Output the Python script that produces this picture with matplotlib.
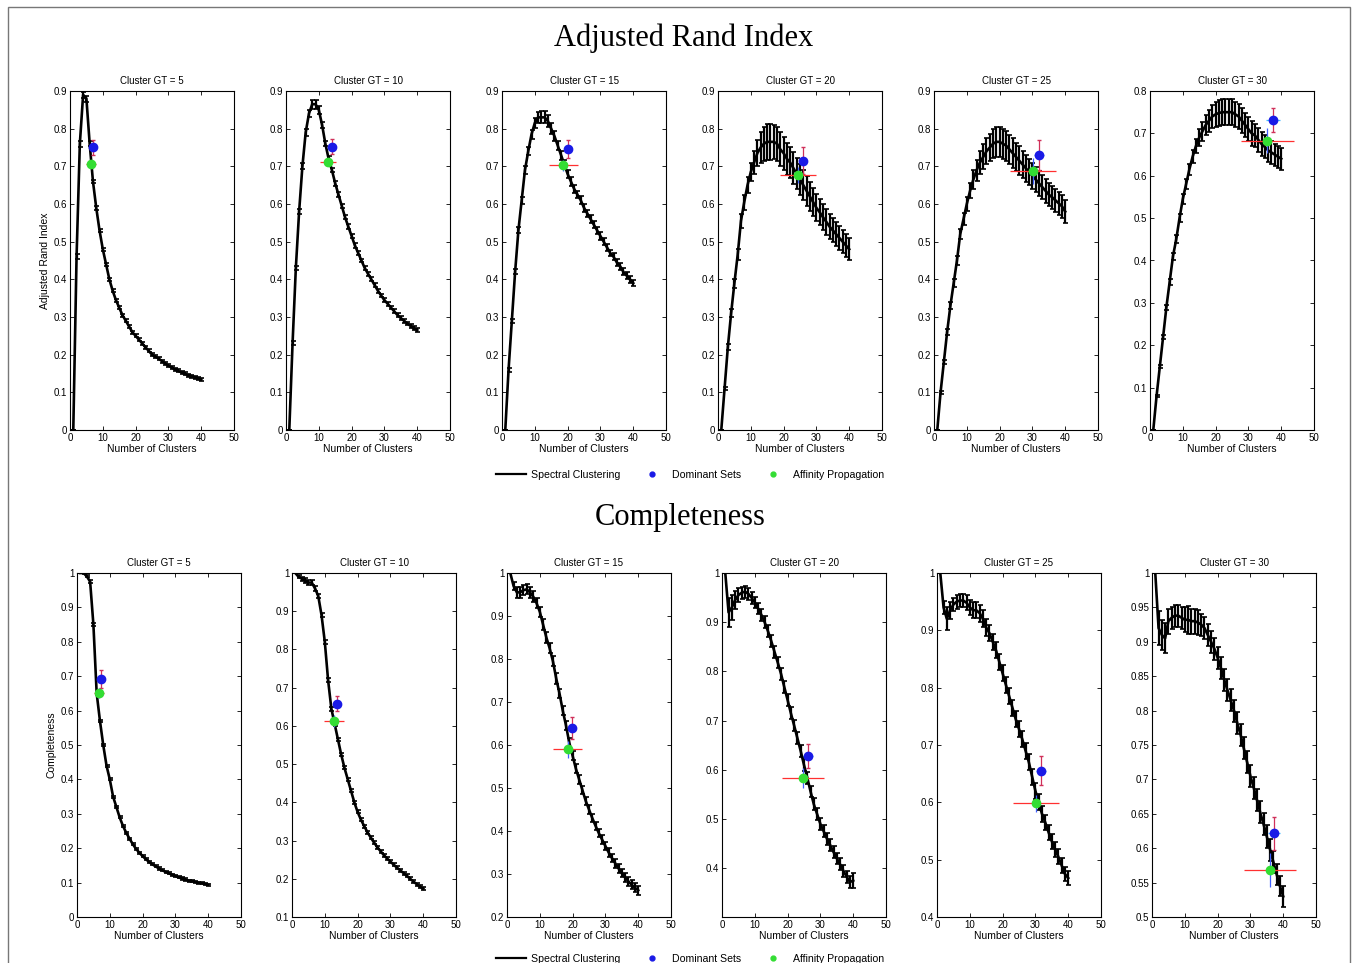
import matplotlib
matplotlib.use("Agg")
import matplotlib.pyplot as plt
from matplotlib.lines import Line2D
from matplotlib.patches import Rectangle
from matplotlib.ticker import FuncFormatter, MultipleLocator

plt.rcParams['font.family'] = ['Liberation Sans', 'DejaVu Sans']

# number of clusters tried by spectral clustering
n_clusters = list(range(1, 41))
gt_values = [5, 10, 15, 20, 25, 30]

# Adjusted Rand Index, spectral clustering (mean / std)
ari_gt5 = [0.00, 0.46, 0.76, 0.89, 0.88, 0.76, 0.66, 0.59, 0.53, 0.48,
           0.44, 0.40, 0.37, 0.345, 0.325, 0.305, 0.29, 0.275, 0.26, 0.25,
           0.24, 0.23, 0.22, 0.21, 0.20, 0.195, 0.19, 0.183, 0.177, 0.171,
           0.166, 0.161, 0.157, 0.153, 0.149, 0.146, 0.143, 0.140, 0.137, 0.134]
ari_gt10 = [0.00, 0.23, 0.43, 0.58, 0.70, 0.79, 0.84, 0.865, 0.865, 0.85,
            0.81, 0.76, 0.72, 0.69, 0.655, 0.625, 0.595, 0.565, 0.54, 0.515,
            0.49, 0.47, 0.45, 0.43, 0.415, 0.40, 0.385, 0.37, 0.357, 0.345,
            0.335, 0.325, 0.315, 0.305, 0.297, 0.29, 0.283, 0.276, 0.27, 0.265]
ari_gt15 = [0.00, 0.16, 0.29, 0.42, 0.53, 0.61, 0.69, 0.74, 0.785, 0.815,
            0.83, 0.83, 0.83, 0.82, 0.80, 0.78, 0.755, 0.73, 0.705, 0.68,
            0.66, 0.64, 0.625, 0.61, 0.59, 0.575, 0.56, 0.545, 0.53, 0.515,
            0.50, 0.485, 0.47, 0.46, 0.445, 0.435, 0.42, 0.41, 0.40, 0.39]
ari_gt20 = [0.00, 0.11, 0.22, 0.31, 0.39, 0.465, 0.555, 0.605, 0.65, 0.685,
            0.71, 0.735, 0.75, 0.76, 0.765, 0.765, 0.765, 0.76, 0.745, 0.735,
            0.72, 0.71, 0.695, 0.68, 0.665, 0.65, 0.635, 0.62, 0.605, 0.59,
            0.578, 0.565, 0.553, 0.54, 0.53, 0.52, 0.51, 0.50, 0.49, 0.48]
ari_gt25 = [0.00, 0.10, 0.18, 0.26, 0.33, 0.39, 0.45, 0.52, 0.56, 0.60,
            0.635, 0.665, 0.69, 0.71, 0.725, 0.74, 0.75, 0.76, 0.765, 0.765,
            0.76, 0.755, 0.745, 0.735, 0.725, 0.715, 0.705, 0.695, 0.685, 0.675,
            0.665, 0.655, 0.645, 0.635, 0.625, 0.618, 0.61, 0.602, 0.594, 0.58]
ari_gt30 = [0.00, 0.08, 0.15, 0.22, 0.29, 0.35, 0.41, 0.45, 0.50, 0.545,
            0.58, 0.615, 0.645, 0.67, 0.69, 0.705, 0.72, 0.73, 0.74, 0.745,
            0.748, 0.75, 0.75, 0.75, 0.75, 0.745, 0.74, 0.73, 0.72, 0.71,
            0.70, 0.695, 0.685, 0.675, 0.668, 0.66, 0.655, 0.65, 0.645, 0.64]

ari_err5 = [0.000, 0.006, 0.008, 0.008, 0.008, 0.006, 0.005, 0.005, 0.004, 0.004,
            0.004, 0.004, 0.004, 0.004, 0.004, 0.004, 0.004, 0.004, 0.004, 0.004,
            0.004, 0.004, 0.004, 0.004, 0.004, 0.004, 0.004, 0.004, 0.004, 0.004,
            0.004, 0.004, 0.004, 0.004, 0.004, 0.004, 0.004, 0.004, 0.004, 0.004]
ari_err10 = [0.000, 0.005, 0.006, 0.007, 0.008, 0.009, 0.010, 0.012, 0.012, 0.010,
             0.008, 0.007, 0.007, 0.006, 0.006, 0.006, 0.006, 0.006, 0.006, 0.006,
             0.006, 0.006, 0.005, 0.005, 0.005, 0.005, 0.005, 0.005, 0.005, 0.005,
             0.005, 0.005, 0.005, 0.005, 0.005, 0.005, 0.005, 0.005, 0.005, 0.005]
ari_err15 = [0.000, 0.005, 0.006, 0.007, 0.008, 0.009, 0.010, 0.011, 0.012, 0.014,
             0.015, 0.016, 0.016, 0.015, 0.014, 0.013, 0.012, 0.012, 0.011, 0.011,
             0.011, 0.010, 0.010, 0.010, 0.010, 0.010, 0.010, 0.010, 0.010, 0.010,
             0.010, 0.010, 0.009, 0.009, 0.009, 0.009, 0.009, 0.009, 0.009, 0.009]
ari_err20 = [0.000, 0.005, 0.008, 0.010, 0.012, 0.015, 0.018, 0.020, 0.022, 0.025,
             0.030, 0.035, 0.040, 0.045, 0.048, 0.048, 0.046, 0.045, 0.045, 0.044,
             0.043, 0.042, 0.042, 0.041, 0.040, 0.040, 0.039, 0.038, 0.037, 0.036,
             0.035, 0.034, 0.034, 0.033, 0.032, 0.032, 0.031, 0.030, 0.030, 0.030]
ari_err25 = [0.000, 0.004, 0.006, 0.008, 0.010, 0.011, 0.012, 0.014, 0.016, 0.018,
             0.020, 0.024, 0.028, 0.030, 0.033, 0.035, 0.037, 0.038, 0.040, 0.040,
             0.040, 0.040, 0.039, 0.039, 0.038, 0.038, 0.037, 0.036, 0.035, 0.035,
             0.034, 0.033, 0.033, 0.032, 0.031, 0.031, 0.030, 0.030, 0.030, 0.030]
ari_err30 = [0.000, 0.003, 0.004, 0.005, 0.006, 0.007, 0.008, 0.009, 0.010, 0.011,
             0.012, 0.013, 0.015, 0.017, 0.020, 0.022, 0.024, 0.026, 0.028, 0.029,
             0.030, 0.030, 0.030, 0.031, 0.031, 0.030, 0.030, 0.030, 0.029, 0.029,
             0.029, 0.028, 0.028, 0.028, 0.027, 0.027, 0.027, 0.026, 0.026, 0.026]

# Completeness, spectral clustering (mean / std)
comp_gt5 = [1.00, 1.00, 0.99, 0.975, 0.85, 0.65, 0.57, 0.50, 0.44, 0.40,
            0.35, 0.32, 0.29, 0.265, 0.245, 0.228, 0.212, 0.198, 0.187, 0.177,
            0.168, 0.16, 0.153, 0.147, 0.141, 0.136, 0.131, 0.127, 0.123, 0.119,
            0.115, 0.112, 0.109, 0.106, 0.104, 0.102, 0.100, 0.098, 0.096, 0.094]
comp_gt10 = [1.00, 0.99, 0.985, 0.98, 0.975, 0.975, 0.96, 0.94, 0.89, 0.82,
             0.72, 0.645, 0.605, 0.565, 0.525, 0.49, 0.46, 0.43, 0.40, 0.375,
             0.355, 0.338, 0.322, 0.308, 0.295, 0.283, 0.272, 0.262, 0.253, 0.245,
             0.237, 0.229, 0.222, 0.215, 0.208, 0.200, 0.193, 0.186, 0.180, 0.174]
comp_gt15 = [1.00, 0.97, 0.955, 0.955, 0.96, 0.962, 0.955, 0.945, 0.93, 0.91,
             0.88, 0.85, 0.825, 0.795, 0.755, 0.72, 0.68, 0.645, 0.605, 0.575,
             0.545, 0.52, 0.495, 0.47, 0.45, 0.43, 0.412, 0.395, 0.38, 0.365,
             0.35, 0.337, 0.325, 0.313, 0.302, 0.292, 0.283, 0.275, 0.268, 0.262]
comp_gt20 = [1.00, 0.92, 0.93, 0.945, 0.955, 0.96, 0.962, 0.958, 0.95, 0.94,
             0.928, 0.915, 0.90, 0.882, 0.862, 0.84, 0.818, 0.795, 0.768, 0.742,
             0.715, 0.69, 0.664, 0.638, 0.61, 0.584, 0.556, 0.53, 0.51, 0.49,
             0.475, 0.46, 0.447, 0.433, 0.42, 0.408, 0.395, 0.383, 0.372, 0.375]
comp_gt25 = [1.00, 0.94, 0.92, 0.935, 0.945, 0.95, 0.952, 0.952, 0.948, 0.94,
             0.935, 0.935, 0.93, 0.92, 0.905, 0.895, 0.88, 0.865, 0.845, 0.825,
             0.805, 0.785, 0.765, 0.745, 0.728, 0.71, 0.69, 0.67, 0.645, 0.62,
             0.60, 0.58, 0.565, 0.548, 0.532, 0.518, 0.505, 0.49, 0.475, 0.468]
comp_gt30 = [1.00, 0.92, 0.91, 0.905, 0.93, 0.935, 0.938, 0.938, 0.935, 0.932,
             0.932, 0.93, 0.93, 0.928, 0.925, 0.92, 0.91, 0.90, 0.89, 0.877,
             0.862, 0.845, 0.83, 0.815, 0.80, 0.782, 0.765, 0.745, 0.725, 0.705,
             0.688, 0.67, 0.652, 0.635, 0.617, 0.598, 0.58, 0.562, 0.545, 0.53]

comp_err5 = [0.000, 0.002, 0.003, 0.004, 0.005, 0.005, 0.004, 0.003, 0.003, 0.003,
             0.003, 0.003, 0.003, 0.003, 0.003, 0.003, 0.003, 0.003, 0.003, 0.003,
             0.003, 0.003, 0.003, 0.003, 0.003, 0.003, 0.003, 0.003, 0.003, 0.003,
             0.003, 0.003, 0.003, 0.003, 0.003, 0.003, 0.003, 0.003, 0.003, 0.003]
comp_err10 = [0.000, 0.004, 0.005, 0.006, 0.006, 0.006, 0.006, 0.006, 0.006, 0.005,
              0.005, 0.005, 0.005, 0.004, 0.004, 0.004, 0.004, 0.004, 0.004, 0.004,
              0.004, 0.004, 0.004, 0.004, 0.004, 0.004, 0.004, 0.004, 0.004, 0.004,
              0.004, 0.004, 0.004, 0.004, 0.004, 0.004, 0.004, 0.004, 0.004, 0.004]
comp_err15 = [0.000, 0.010, 0.012, 0.012, 0.012, 0.012, 0.012, 0.012, 0.012, 0.012,
              0.012, 0.012, 0.012, 0.012, 0.012, 0.011, 0.011, 0.011, 0.011, 0.011,
              0.011, 0.010, 0.010, 0.010, 0.010, 0.010, 0.010, 0.010, 0.010, 0.010,
              0.010, 0.010, 0.010, 0.010, 0.010, 0.010, 0.010, 0.010, 0.010, 0.010]
comp_err20 = [0.000, 0.030, 0.025, 0.018, 0.014, 0.012, 0.012, 0.012, 0.012, 0.012,
              0.012, 0.012, 0.012, 0.012, 0.012, 0.012, 0.012, 0.012, 0.012, 0.012,
              0.012, 0.012, 0.012, 0.012, 0.012, 0.012, 0.012, 0.012, 0.012, 0.012,
              0.012, 0.012, 0.012, 0.012, 0.012, 0.012, 0.012, 0.012, 0.012, 0.015]
comp_err25 = [0.000, 0.012, 0.020, 0.015, 0.012, 0.012, 0.012, 0.012, 0.013, 0.013,
              0.014, 0.014, 0.015, 0.015, 0.015, 0.014, 0.014, 0.014, 0.014, 0.014,
              0.014, 0.014, 0.014, 0.014, 0.014, 0.014, 0.014, 0.014, 0.014, 0.014,
              0.014, 0.014, 0.013, 0.013, 0.013, 0.013, 0.013, 0.013, 0.013, 0.013]
comp_err30 = [0.000, 0.025, 0.022, 0.022, 0.018, 0.016, 0.016, 0.016, 0.016, 0.018,
              0.020, 0.018, 0.018, 0.018, 0.016, 0.016, 0.016, 0.016, 0.016, 0.016,
              0.016, 0.016, 0.016, 0.016, 0.016, 0.016, 0.016, 0.016, 0.016, 0.016,
              0.016, 0.016, 0.016, 0.016, 0.016, 0.016, 0.016, 0.015, 0.015, 0.015]

# Dominant Sets / Affinity Propagation (one point per panel)
ds_ari_x = [7.0, 14.0, 20.0, 26.0, 32.0, 37.5]
ds_ari_y = [0.750, 0.752, 0.746, 0.715, 0.731, 0.732]
ds_ari_xerr = [0.5, 0.7, 1.0, 1.2, 1.5, 2.0]
ds_ari_yerr = [0.020, 0.020, 0.025, 0.035, 0.040, 0.028]
ap_ari_x = [6.5, 12.8, 18.7, 24.5, 30.2, 35.8]
ap_ari_y = [0.705, 0.712, 0.703, 0.677, 0.688, 0.683]
ap_ari_xerr = [1.5, 2.5, 4.5, 5.5, 7.0, 8.0]
ap_ari_yerr = [0.010, 0.010, 0.015, 0.020, 0.035, 0.030]

ds_comp_x = [7.2, 13.8, 19.8, 26.2, 31.8, 37.3]
ds_comp_y = [0.692, 0.658, 0.640, 0.628, 0.655, 0.622]
ds_comp_xerr = [0.5, 0.7, 1.0, 1.5, 1.5, 1.8]
ds_comp_yerr = [0.025, 0.020, 0.025, 0.025, 0.025, 0.024]
ap_comp_x = [6.6, 12.8, 18.5, 24.7, 30.2, 36.0]
ap_comp_y = [0.652, 0.613, 0.590, 0.583, 0.598, 0.568]
ap_comp_xerr = [1.5, 3.0, 4.5, 6.5, 7.0, 8.0]
ap_comp_yerr = [0.015, 0.015, 0.020, 0.020, 0.015, 0.025]

ari_curves = [ari_gt5, ari_gt10, ari_gt15, ari_gt20, ari_gt25, ari_gt30]
ari_errs = [ari_err5, ari_err10, ari_err15, ari_err20, ari_err25, ari_err30]
comp_curves = [comp_gt5, comp_gt10, comp_gt15, comp_gt20, comp_gt25, comp_gt30]
comp_errs = [comp_err5, comp_err10, comp_err15, comp_err20, comp_err25, comp_err30]

ari_ylims = [(0, 0.9)] * 5 + [(0, 0.8)]
comp_ylims = [(0, 1), (0.1, 1), (0.2, 1), (0.301, 1), (0.4, 1), (0.5, 1)]
comp_ystep = [0.1, 0.1, 0.1, 0.1, 0.1, 0.05]

W, H = 1357, 963
fig = plt.figure(figsize=(W / 100, H / 100), dpi=100)

top_left = [70, 286, 502, 718, 934, 1150]
bot_left = [77, 292, 507, 722, 937, 1152]
fmt = FuncFormatter(lambda v, p: f"{round(v, 3):g}")


def draw_panel(ax, curve, err, ds, ap, ylim, ystep, gt):
    ax.errorbar(n_clusters, curve, yerr=err, color='black', lw=1.9,
                elinewidth=1.6, capsize=1.8, capthick=1.2, zorder=2)
    dx, dy, dxe, dye = ds
    ax_, ay, axe, aye = ap
    # dominant sets: red vertical, cyan horizontal bars
    ax.errorbar([dx], [dy], yerr=[dye], fmt='none', ecolor='#d0305a',
                elinewidth=0.9, capsize=1.2, zorder=3)
    ax.errorbar([dx], [dy], xerr=[dxe], fmt='none', ecolor='#40b8ff',
                elinewidth=0.9, zorder=3)
    ax.plot([dx], [dy], 'o', color='#1a1ae6', ms=6, zorder=4)
    # affinity propagation: red horizontal, blue vertical bars
    ax.errorbar([ax_], [ay], xerr=[axe], fmt='none', ecolor='#ff3030',
                elinewidth=0.9, zorder=3)
    ax.errorbar([ax_], [ay], yerr=[aye], fmt='none', ecolor='#4060ff',
                elinewidth=0.9, zorder=3)
    ax.plot([ax_], [ay], 'o', color='#33dd33', ms=6, zorder=4)

    ax.set_xlim(0, 50)
    ax.set_ylim(*ylim)
    ax.xaxis.set_major_locator(MultipleLocator(10))
    ax.yaxis.set_major_locator(MultipleLocator(ystep))
    ax.xaxis.set_major_formatter(fmt)
    ax.yaxis.set_major_formatter(fmt)
    ax.tick_params(direction='in', top=True, right=True, length=3,
                   width=0.6, labelsize=7, pad=2)
    for s in ax.spines.values():
        s.set_linewidth(0.8)
    ax.set_title(f"Cluster GT = {gt}", fontsize=7, pad=5)
    ax.set_xlabel("Number of Clusters", fontsize=7.5, labelpad=1)


for i, gt in enumerate(gt_values):
    ax = fig.add_axes([top_left[i] / W, (H - 430) / H, 164 / W, 339 / H])
    draw_panel(ax, ari_curves[i], ari_errs[i],
               (ds_ari_x[i], ds_ari_y[i], ds_ari_xerr[i], ds_ari_yerr[i]),
               (ap_ari_x[i], ap_ari_y[i], ap_ari_xerr[i], ap_ari_yerr[i]),
               ari_ylims[i], 0.1, gt)
    if i == 0:
        ax.set_ylabel("Adjusted Rand Index", fontsize=7.5, labelpad=3)

    ax = fig.add_axes([bot_left[i] / W, (H - 917) / H, 164 / W, 344 / H])
    draw_panel(ax, comp_curves[i], comp_errs[i],
               (ds_comp_x[i], ds_comp_y[i], ds_comp_xerr[i], ds_comp_yerr[i]),
               (ap_comp_x[i], ap_comp_y[i], ap_comp_xerr[i], ap_comp_yerr[i]),
               comp_ylims[i], comp_ystep[i], gt)
    if i == 0:
        ax.set_ylabel("Completeness", fontsize=7.5, labelpad=3)

fig.text(684 / W, 1 - 38 / H, "Adjusted Rand Index", ha='center', va='center',
         fontsize=22, family='Liberation Serif')
fig.text(680 / W, 1 - 518 / H, "Completeness", ha='center', va='center',
         fontsize=22, family='Liberation Serif')

handles = [Line2D([], [], color='black', lw=1.6),
           Line2D([], [], ls='none', marker='o', color='#1a1ae6', ms=3.5),
           Line2D([], [], ls='none', marker='o', color='#33dd33', ms=3.5)]
labels = ["Spectral Clustering", "Dominant Sets", "Affinity Propagation"]
for yy in (475, 959):
    fig.legend(handles, labels, loc='center', bbox_to_anchor=(690 / W, 1 - yy / H),
               ncol=3, frameon=False, fontsize=7.6, handlelength=2.8,
               columnspacing=1.6, handletextpad=0.5)

fig.add_artist(Rectangle((8 / W, -0.01), (1350 - 8) / W, (H - 7) / H + 0.01,
                         transform=fig.transFigure, fill=False,
                         ec='#777777', lw=1))

fig.savefig("out.png", dpi=100)
